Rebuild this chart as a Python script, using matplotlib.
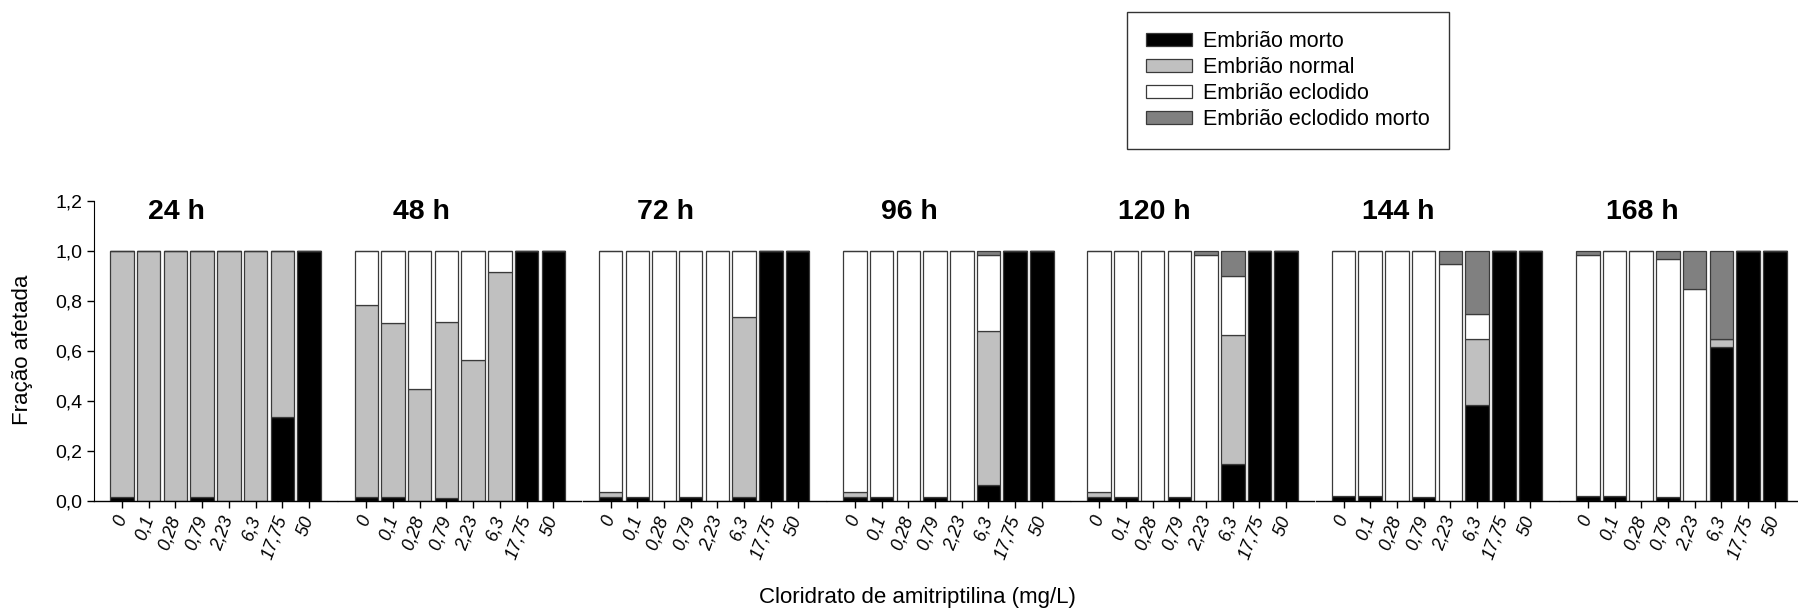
import matplotlib
matplotlib.use("Agg")
import matplotlib.pyplot as plt
from matplotlib.patches import Patch

# concentrations (mg/L) on the x axis of every panel
doses = ["0", "0,1", "0,28", "0,79", "2,23", "6,3", "17,75", "50"]
times = ["24 h", "48 h", "72 h", "96 h", "120 h", "144 h", "168 h"]

# fraction per panel (rows = time, cols = dose)
morto = [
    [0.017, 0, 0, 0.015, 0, 0, 0.337, 1],
    [0.017, 0.017, 0, 0.012, 0, 0, 1, 1],
    [0.015, 0.017, 0, 0.015, 0, 0.015, 1, 1],
    [0.015, 0.017, 0, 0.015, 0, 0.064, 1, 1],
    [0.015, 0.017, 0, 0.015, 0, 0.148, 1, 1],
    [0.020, 0.020, 0, 0.015, 0, 0.384, 1, 1],
    [0.020, 0.020, 0, 0.015, 0, 0.617, 1, 1],
]
normal = [
    [0.983, 1, 1, 0.985, 1, 1, 0.663, 0],
    [0.767, 0.694, 0.448, 0.704, 0.564, 0.916, 0, 0],
    [0.020, 0, 0, 0, 0, 0.720, 0, 0],
    [0.020, 0, 0, 0, 0, 0.616, 0, 0],
    [0.020, 0, 0, 0, 0, 0.516, 0, 0],
    [0, 0, 0, 0, 0, 0.264, 0, 0],
    [0, 0, 0, 0, 0, 0.031, 0, 0],
]
eclodido = [
    [0, 0, 0, 0, 0, 0, 0, 0],
    [0.216, 0.289, 0.552, 0.284, 0.436, 0.084, 0, 0],
    [0.965, 0.983, 1, 0.985, 1, 0.265, 0, 0],
    [0.965, 0.983, 1, 0.985, 1, 0.303, 0, 0],
    [0.965, 0.983, 1, 0.985, 0.983, 0.236, 0, 0],
    [0.980, 0.980, 1, 0.985, 0.949, 0.101, 0, 0],
    [0.963, 0.980, 1, 0.952, 0.849, 0, 0, 0],
]
eclodido_morto = [
    [0, 0, 0, 0, 0, 0, 0, 0],
    [0, 0, 0, 0, 0, 0, 0, 0],
    [0, 0, 0, 0, 0, 0, 0, 0],
    [0, 0, 0, 0, 0, 0.017, 0, 0],
    [0, 0, 0, 0, 0.017, 0.100, 0, 0],
    [0, 0, 0, 0, 0.051, 0.251, 0, 0],
    [0.017, 0, 0, 0.033, 0.151, 0.352, 0, 0],
]

series_names = ["Embrião morto", "Embrião normal", "Embrião eclodido", "Embrião eclodido morto"]
series_colors = ["#000000", "#c0c0c0", "#ffffff", "#808080"]

plt.rcParams["font.family"] = ["Liberation Sans", "DejaVu Sans"]

W, H = 1798, 615


def panel(ax, k, show_y):
    x = list(range(len(doses)))
    bottom = [0.0] * len(doses)
    for vals, col in zip([morto[k], normal[k], eclodido[k], eclodido_morto[k]], series_colors):
        ax.bar(x, vals, bottom=bottom, width=0.88, color=col,
               edgecolor="#3a3a3a", linewidth=0.9)
        bottom = [b + v for b, v in zip(bottom, vals)]

    ax.set_xlim(-1.05, 8.05)
    ax.set_ylim(0, 1.2)
    for s in ["top", "right"]:
        ax.spines[s].set_visible(False)
    ax.spines["bottom"].set_linewidth(1.0)
    ax.set_xticks(x)
    ax.set_xticklabels(doses, rotation=70, ha="right", va="center",
                       rotation_mode="anchor", fontsize=13, style="italic")
    ax.tick_params(axis="x", direction="out", length=5, width=1, pad=6)
    if show_y:
        ax.set_yticks([0, 0.2, 0.4, 0.6, 0.8, 1.0, 1.2])
        ax.set_yticklabels(["0,0", "0,2", "0,4", "0,6", "0,8", "1,0", "1,2"], fontsize=14)
        ax.tick_params(axis="y", direction="out", length=5, width=1)
    else:
        ax.spines["left"].set_visible(False)
        ax.set_yticks([])
    ax.text(2.05, 1.155, times[k], fontsize=20.5, fontweight="bold",
            ha="center", va="center")


def main() -> None:
    fig = plt.figure(figsize=(W / 100, H / 100), dpi=100)
    bottom = 1 - 501 / H
    height = 300 / H
    pitch = 244.3
    for k in range(len(times)):
        left = (94 + k * pitch) / W
        ax = fig.add_axes([left, bottom, 243 / W, height])
        panel(ax, k, k == 0)

    fig.text(23 / W, 1 - 350 / H, "Fração afetada", rotation=90,
             ha="center", va="center", fontsize=16)
    fig.text(917 / W, 1 - 598 / H, "Cloridrato de amitriptilina (mg/L)",
             ha="center", va="center", fontsize=16)

    handles = [Patch(facecolor=c, edgecolor="#3a3a3a", linewidth=0.9) for c in series_colors]
    leg = fig.legend(handles, series_names, loc="upper left",
                     bbox_to_anchor=(1127 / W, 1 - 12 / H), fontsize=15.5,
                     frameon=True, fancybox=False, edgecolor="black",
                     handlelength=2.15, handleheight=0.55, handletextpad=0.5,
                     labelspacing=0.24, borderpad=0.88, borderaxespad=0)
    leg.get_frame().set_linewidth(1.0)

    fig.savefig("out.png", dpi=100)


if __name__ == "__main__":
    main()
